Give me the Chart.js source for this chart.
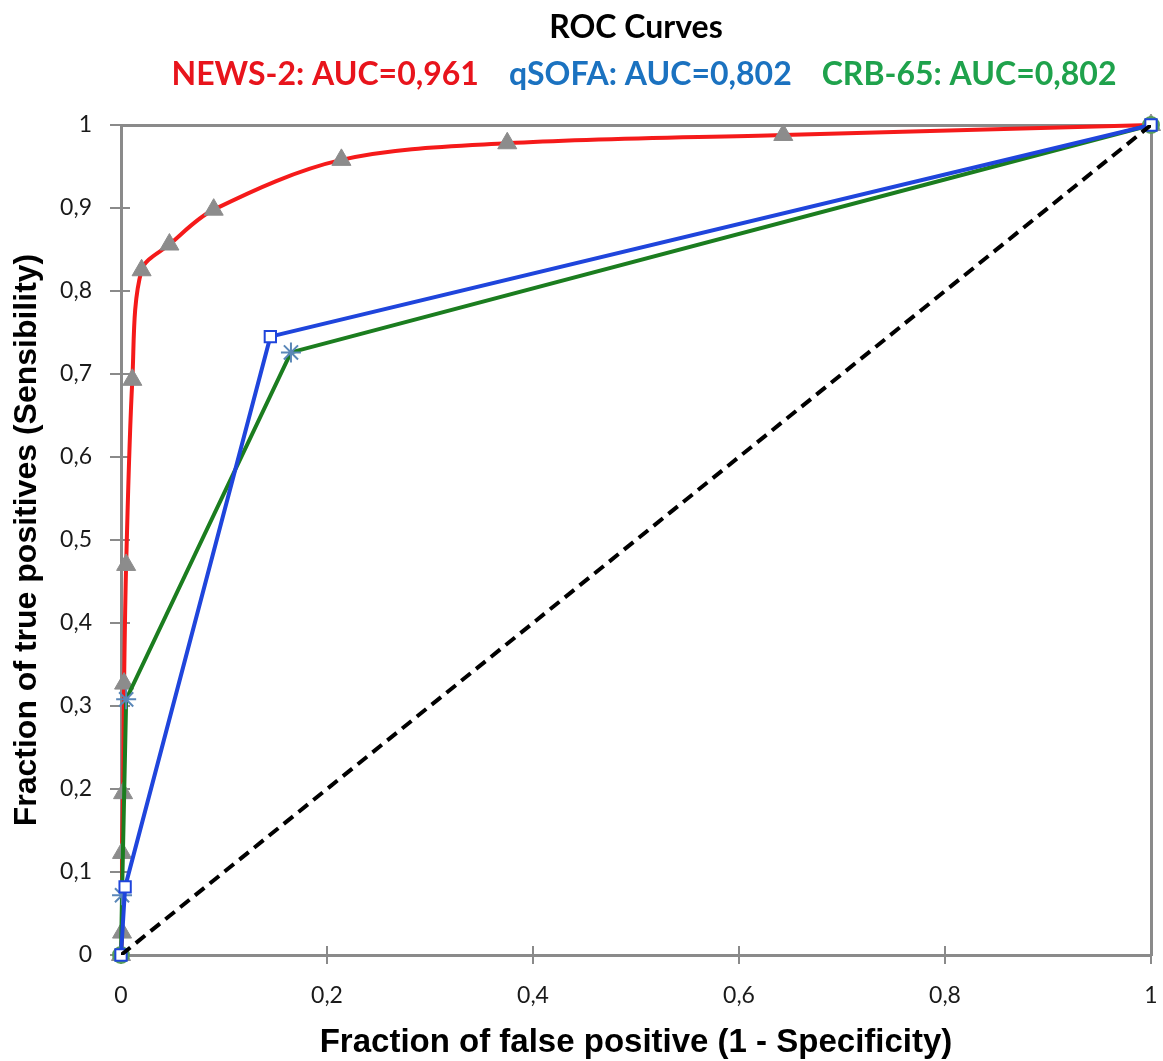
<!DOCTYPE html>
<html>
<head>
<meta charset="utf-8">
<script src="https://cdn.jsdelivr.net/npm/chart.js@4.4.1/dist/chart.umd.min.js"></script>
<style>
  body { margin: 0; background: #fff; }
  #wrap { width: 1163px; height: 1061px; }
</style>
</head>
<body>
<div id="wrap"><canvas id="rocChart"></canvas></div>
<script>
// NEWS-2 curve points (1 - specificity, sensitivity)
const newsX = [0, 0.001, 0.001, 0.002, 0.003, 0.005, 0.011, 0.020, 0.047, 0.090, 0.214, 0.375, 0.643, 1];
const newsY = [0, 0.027, 0.123, 0.195, 0.327, 0.470, 0.693, 0.825, 0.856, 0.898, 0.958, 0.978, 0.988, 1];
// qSOFA
const qsofaX = [0, 0.004, 0.145, 1];
const qsofaY = [0, 0.082, 0.745, 1];
// CRB-65
const crbX = [0, 0.001, 0.005, 0.165, 1];
const crbY = [0, 0.072, 0.308, 0.726, 1];
// chance line
const refX = [0, 1];
const refY = [0, 1];

const xTickLabels = ['0', '0,2', '0,4', '0,6', '0,8', '1'];
const yTickLabels = ['0', '0,1', '0,2', '0,3', '0,4', '0,5', '0,6', '0,7', '0,8', '0,9', '1'];
const legendTexts = ['NEWS-2: AUC=0,961', 'qSOFA: AUC=0,802', 'CRB-65: AUC=0,802'];
const legendColors = ['#e8141c', '#1b72c0', '#1fa24c'];

const toPoints = (xs, ys) => xs.map((x, i) => ({ x: x, y: ys[i] }));

const axisGray = '#8a8a8a';

// small tick marks on the inner side of the axes
const innerTicks = {
    id: 'innerTicks',
    beforeDatasetsDraw: (chart) => {
        const ctx = chart.ctx;
        const xs = chart.scales.x, ys = chart.scales.y;
        const area = chart.chartArea;
        ctx.save();
        ctx.strokeStyle = axisGray;
        ctx.lineWidth = 2;
        ctx.beginPath();
        xs.ticks.forEach(t => {
            const px = xs.getPixelForValue(t.value);
            ctx.moveTo(px, area.bottom);
            ctx.lineTo(px, area.bottom - 9);
        });
        ys.ticks.forEach(t => {
            const py = ys.getPixelForValue(t.value);
            ctx.moveTo(area.left, py);
            ctx.lineTo(area.left + 9, py);
        });
        ctx.stroke();
        ctx.restore();
    }
};

// end points of CRB-65 are plain green dots, the others stars
const crbStyles = crbX.map((x, i) => (i === 0 || i === crbX.length - 1) ? 'circle' : 'star');

const ctx = document.getElementById('rocChart').getContext('2d');
new Chart(ctx, {
    type: 'scatter',
    data: {
        datasets: [
            {
                label: 'Reference',
                data: toPoints(refX, refY),
                showLine: true,
                borderColor: '#000',
                borderWidth: 4,
                borderDash: [12, 7],
                pointRadius: 0,
                order: 0
            },
            {
                label: 'qSOFA',
                data: toPoints(qsofaX, qsofaY),
                showLine: true,
                clip: false,
                borderColor: '#1f45dc',
                borderWidth: 4,
                pointStyle: 'rect',
                pointRadius: 8,
                pointBackgroundColor: '#fff',
                pointBorderColor: '#1f45dc',
                pointBorderWidth: 2,
                order: 1
            },
            {
                label: 'CRB-65',
                data: toPoints(crbX, crbY),
                showLine: true,
                clip: false,
                borderColor: '#1b7d1f',
                borderWidth: 4,
                pointStyle: crbStyles,
                pointRadius: crbStyles.map(s => s === 'star' ? 10 : 8),
                pointBackgroundColor: '#5a9e5a',
                pointBorderColor: crbStyles.map(s => s === 'star' ? '#5a87b8' : '#5a9e5a'),
                pointBorderWidth: 2,
                order: 2
            },
            {
                label: 'NEWS-2',
                data: toPoints(newsX, newsY),
                showLine: true,
                clip: false,
                tension: 0.33,
                borderColor: '#f51a1a',
                borderWidth: 4,
                pointStyle: 'triangle',
                pointRadius: 11,
                pointBackgroundColor: '#8c8c8c',
                pointBorderColor: '#8c8c8c',
                pointBorderWidth: 1,
                order: 3
            }
        ]
    },
    options: {
        responsive: true,
        maintainAspectRatio: false,
        animation: false,
        layout: { padding: { left: 4, right: 0, top: 0, bottom: 0 } },
        plugins: {
            tooltip: { enabled: false },
            title: {
                display: true,
                text: 'ROC Curves',
                color: '#000',
                fullSize: false,
                font: { family: 'Lato', size: 32, weight: 'bold' },
                padding: { top: 8, bottom: -2 }
            },
            legend: {
                display: true,
                fullSize: false,
                onClick: null,
                labels: {
                    boxWidth: 0,
                    padding: 14,
                    font: { family: 'Lato', size: 32, weight: 'bold' },
                    generateLabels: () => legendTexts.map((t, i) => ({
                        text: t,
                        fontColor: legendColors[i],
                        fillStyle: 'rgba(0,0,0,0)',
                        strokeStyle: 'rgba(0,0,0,0)',
                        lineWidth: 0,
                        hidden: false,
                        datasetIndex: i
                    }))
                }
            }
        },
        scales: {
            x: {
                type: 'linear',
                min: 0,
                max: 1,
                afterFit: (scale) => {
                    scale.height = 106;
                    scale.paddingLeft = 0;
                    scale.paddingRight = 0;
                },
                ticks: {
                    stepSize: 0.2,
                    padding: 18,
                    color: '#1a1a1a',
                    font: { family: 'Lato', size: 23 },
                    callback: (v, i) => xTickLabels[i]
                },
                grid: { drawOnChartArea: false, drawTicks: true, tickLength: 9, color: axisGray, lineWidth: 2 },
                border: { color: axisGray, width: 3 },
                title: {
                    display: true,
                    text: 'Fraction of false positive (1 - Specificity)',
                    color: '#000',
                    font: { family: 'Liberation Sans', size: 33, weight: 'bold' },
                    padding: { top: 0, bottom: -2 }
                }
            },
            y: {
                type: 'linear',
                min: 0,
                max: 1,
                afterFit: (scale) => { scale.width = 117; },
                ticks: {
                    stepSize: 0.1,
                    padding: 18,
                    color: '#1a1a1a',
                    font: { family: 'Lato', size: 23 },
                    callback: (v, i) => yTickLabels[i]
                },
                grid: { drawOnChartArea: false, drawTicks: true, tickLength: 11, color: axisGray, lineWidth: 2 },
                border: { color: axisGray, width: 3 },
                title: {
                    display: true,
                    text: 'Fraction of true positives (Sensibility)',
                    color: '#000',
                    font: { family: 'Liberation Sans', size: 32, weight: 'bold' },
                    padding: { top: 4, bottom: 0 }
                }
            },
            x2: {
                type: 'linear',
                position: 'top',
                min: 0,
                max: 1,
                afterFit: (scale) => { scale.height = 24.6; },
                ticks: { display: false },
                grid: { display: false },
                border: { color: axisGray, width: 3 }
            },
            y2: {
                type: 'linear',
                position: 'right',
                min: 0,
                max: 1,
                afterFit: (scale) => { scale.width = 9; },
                ticks: { display: false },
                grid: { display: false },
                border: { color: axisGray, width: 3 }
            }
        }
    },
    plugins: [innerTicks]
});
</script>
</body>
</html>
